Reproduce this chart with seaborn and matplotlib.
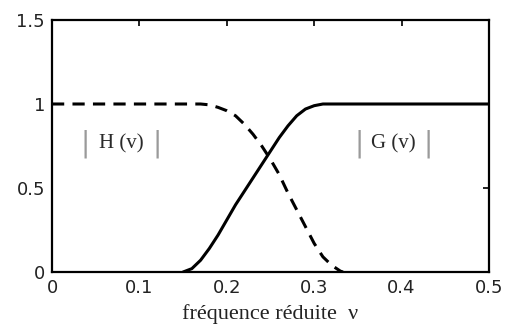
import matplotlib
matplotlib.use("Agg")
import matplotlib.pyplot as plt
import seaborn as sns
import pandas as pd

# |H(v)| : dashed curve
h_v = [0.0, 0.17, 0.18, 0.19, 0.20, 0.21, 0.22, 0.23, 0.24, 0.25, 0.26, 0.27, 0.28, 0.29, 0.30, 0.31, 0.32, 0.33, 0.333]
h_a = [1.0, 1.0, 0.995, 0.98, 0.96, 0.93, 0.88, 0.82, 0.75, 0.67, 0.58, 0.47, 0.37, 0.27, 0.17, 0.09, 0.04, 0.005, 0.0]

# |G(v)| : solid curve
g_v = [0.15, 0.16, 0.17, 0.18, 0.19, 0.20, 0.21, 0.22, 0.23, 0.24, 0.25, 0.26, 0.27, 0.28, 0.29, 0.30, 0.31, 0.5]
g_a = [0.0, 0.02, 0.07, 0.14, 0.22, 0.31, 0.40, 0.48, 0.56, 0.64, 0.72, 0.80, 0.87, 0.93, 0.97, 0.99, 1.0, 1.0]

x_ticks = [0, 0.1, 0.2, 0.3, 0.4, 0.5]
x_tick_labels = ["0", "0.1", "0.2", "0.3", "0.4", "0.5"]
y_ticks = [0, 0.5, 1, 1.5]
y_tick_labels = ["0", "0.5", "1", "1.5"]

sns.set_style("white")
plt.rcParams["font.family"] = ["DejaVu Sans"]

fig = plt.figure(figsize=(5.05, 3.27), dpi=100)
ax = fig.add_axes([52 / 505, 1 - 272 / 327, (489 - 52) / 505, (272 - 20) / 327])

dfh = pd.DataFrame({"v": h_v, "a": h_a})
dfg = pd.DataFrame({"v": g_v, "a": g_a})
sns.lineplot(data=dfh, x="v", y="a", ax=ax, color="black", lw=2.2,
             linestyle=(0, (4, 2.7)), estimator=None, sort=False)
sns.lineplot(data=dfg, x="v", y="a", ax=ax, color="black", lw=2.2,
             estimator=None, sort=False)

ax.set_xlim(0, 0.5)
ax.set_ylim(0, 1.5)
ax.set_xticks(x_ticks)
ax.set_xticklabels(x_tick_labels)
ax.set_yticks(y_ticks)
ax.set_yticklabels(y_tick_labels)
ax.tick_params(direction="in", length=4, width=1.4, top=True, right=True,
               labelsize=13, colors="#222222", pad=5)
for s in ax.spines.values():
    s.set_linewidth(1.6)
    s.set_color("black")
ax.set_ylabel("")
ax.set_xlabel("fréquence réduite  ν", family="Liberation Serif", fontsize=16,
              labelpad=5, color="#222222")

for cx, name in [(0.079, "H (v)"), (0.39, "G (v)")]:
    ax.text(cx, 0.765, name, family="Liberation Serif", fontsize=15,
            ha="center", va="center", color="#2a2a2a")
for bx in [0.038, 0.12, 0.351, 0.43]:
    ax.text(bx, 0.765, "|", family="DejaVu Sans", fontsize=20,
            ha="center", va="center", color="#9a9a9a")

fig.savefig("out.png", dpi=100)
